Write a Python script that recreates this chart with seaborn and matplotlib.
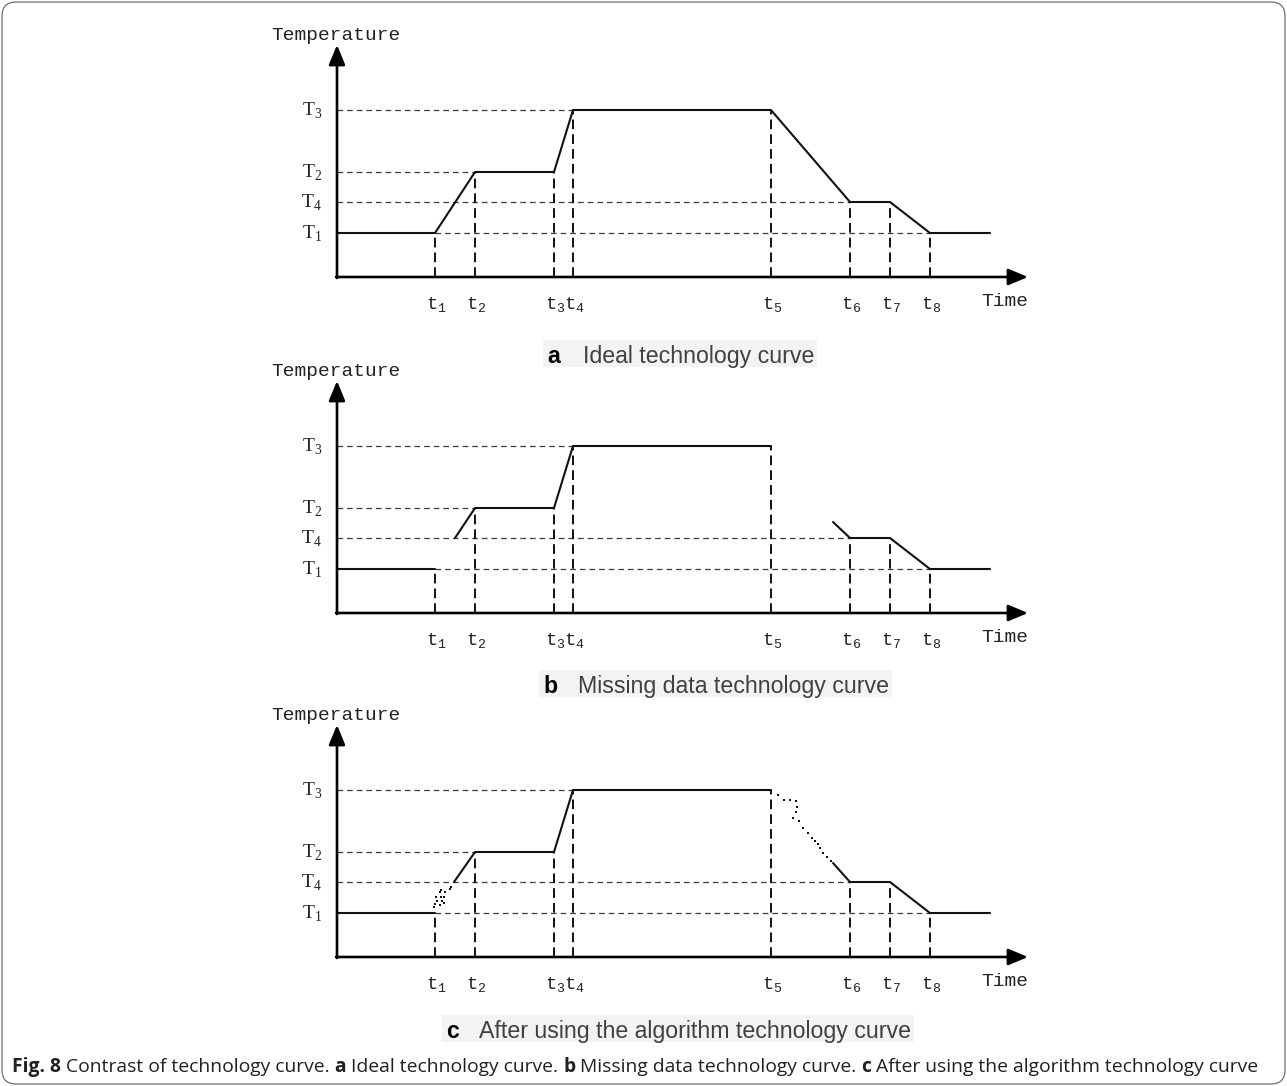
import matplotlib
matplotlib.use('Agg')
import matplotlib.pyplot as plt
import seaborn as sns
from matplotlib.patches import Rectangle, FancyBboxPatch

sns.set_style('white')
plt.rcParams['mathtext.fontset'] = 'custom'
plt.rcParams['mathtext.rm'] = 'Liberation Serif'
plt.rcParams['mathtext.tt'] = 'Liberation Mono'

W, H = 1287, 1086

# time marks t1..t8 and where the curve stops (x units)
t_vals = [98, 138, 217, 236, 434, 513, 553, 593]
t_end = 653
# temperature levels (y units)
T1, T2, T3, T4 = 44, 105, 167, 75
T_names = ['1', '2', '3', '4']
T_levels = [T1, T2, T3, T4]

# ideal curve
ideal_x = [0] + t_vals + [t_end]
ideal_y = [T1, T1, T2, T2, T3, T3, T4, T4, T1, T1]

# missing data curve, three pieces
miss_x1, miss_y1 = [0, 98], [T1, T1]
miss_x2, miss_y2 = [118, 138, 217, 236, 434], [T4, T2, T2, T3, T3]
miss_x3, miss_y3 = [496, 513, 553, 593, t_end], [91, T4, T4, T1, T1]

# repaired curve
rep_x2, rep_y2 = [117, 138, 217, 236, 434], [T4, T2, T2, T3, T3]
rep_x3, rep_y3 = [496, 513, 553, 593, t_end], [94, T4, T4, T1, T1]
# dotted points filled in by the algorithm
fill1_x = [114, 113, 104, 103, 108, 99, 104, 107, 100, 105, 98, 103, 107, 97]
fill1_y = [70, 68, 67, 65, 65, 60, 60, 60, 56, 56, 53, 52, 54, 50]
fill2_x = [441, 447, 453, 459, 460, 459, 456, 462, 466, 471, 475, 478, 481, 483, 486, 490, 494]
fill2_y = [162, 157, 157, 156, 150, 145, 139, 136, 129, 124, 119, 116, 113, 109, 104, 100, 96]

# guide lines (horizontal: level, start, stop)
h_guides = [(T3, 0, 236), (T2, 0, 138), (T4, 0, 513), (T1, 98, 593)]
v_tops = [T1, T2, T2, T3, T3, T4, T4, T1]

panel_letters = ['a', 'b', 'c']
panel_titles = ['Ideal technology curve', 'Missing data technology curve',
                'After using the algorithm technology curve']
axis_base = [277, 613, 957]
title_base = [363, 693, 1038]
letter_x = [547, 543, 446]
title_x = [583, 578, 479]

fig = plt.figure(figsize=(W / 100, H / 100), dpi=100)
bg = fig.add_axes([0, 0, 1, 1])
bg.set_xlim(0, W)
bg.set_ylim(H, 0)
bg.axis('off')
bg.add_patch(FancyBboxPatch((2, 2), W - 4, H - 4, boxstyle='round,pad=0,rounding_size=14',
                            fc='none', ec='#707070', lw=0.9))

line_kw = dict(color='#111111', lw=1.5, sort=False, estimator=None, clip_on=False)

for i in range(3):
    base = axis_base[i]
    ax = fig.add_axes([337 / W, (H - base) / H, 693 / W, 232 / H])
    ax.set_xlim(0, 693)
    ax.set_ylim(0, 232)
    ax.axis('off')
    ax.patch.set_alpha(0)

    # guides
    for lev, x0, x1 in h_guides:
        ax.plot([x0, x1], [lev, lev], color='#3a3a3a', lw=0.9, ls=(0, (4.5, 3.2)), zorder=1, clip_on=False)
    for tx, top in zip(t_vals, v_tops):
        ax.plot([tx, tx], [0, top], color='#111111', lw=1.4, ls=(0, (5, 2.6)), zorder=1, clip_on=False)

    # curves
    if i == 0:
        sns.lineplot(x=ideal_x, y=ideal_y, ax=ax, **line_kw)
    elif i == 1:
        for xs, ys in [(miss_x1, miss_y1), (miss_x2, miss_y2), (miss_x3, miss_y3)]:
            sns.lineplot(x=xs, y=ys, ax=ax, **line_kw)
    else:
        for xs, ys in [(miss_x1, miss_y1), (rep_x2, rep_y2), (rep_x3, rep_y3)]:
            sns.lineplot(x=xs, y=ys, ax=ax, **line_kw)
        for xs, ys in [(fill1_x, fill1_y), (fill2_x, fill2_y)]:
            sns.scatterplot(x=xs, y=ys, ax=ax, marker='s', s=4.6, color='#111111',
                            linewidth=0, clip_on=False, zorder=3)

    # axes arrows
    arr = dict(arrowstyle='-|>,head_length=0.6,head_width=0.25', color='black', lw=1.9,
               shrinkA=0, shrinkB=0, mutation_scale=20)
    ax.annotate('', xy=(691, 0), xytext=(-1, 0), arrowprops=arr, annotation_clip=False)
    ax.annotate('', xy=(0, 232), xytext=(0, -1), arrowprops=arr, annotation_clip=False)

    ax.text(-1, 242, 'Temperature', ha='center', va='center', family='Liberation Mono',
            size=14, color='#222222')
    ax.text(668, -24, 'Time', ha='center', va='center', family='Liberation Mono',
            size=14, color='#222222')
    for name, lev in zip(T_names, T_levels):
        ax.text(-15, lev - 6, r'$\mathrm{T}_{\mathrm{%s}}$' % name, ha='right', va='baseline',
                size=14, color='#222222')
    for k, tx in enumerate(t_vals):
        ax.text(tx + 1, -33, r'$\mathtt{t}_{\mathtt{%d}}$' % (k + 1), ha='center', va='baseline',
                size=13.5, color='#222222')

# panel subtitles
renderer = fig.canvas.get_renderer()
for i in range(3):
    yb = title_base[i]
    bg.text(letter_x[i], yb, panel_letters[i], ha='left', va='baseline', family='Liberation Sans',
            weight='bold', size=16.7, color='black', zorder=3)
    t = bg.text(title_x[i], yb, panel_titles[i], ha='left', va='baseline', family='Liberation Sans',
                size=16.7, color='#404040', zorder=3)
    x_end = t.get_window_extent(renderer).x1
    x0 = letter_x[i] - 4
    bg.add_patch(Rectangle((x0, yb - 23), x_end + 3 - x0, 27, fc='#f3f3f3', ec='none', zorder=2))

# caption with bold pieces
caption = [('Fig. 8', True), ('Contrast of technology curve.', False), ('a', True),
           ('Ideal technology curve.', False), ('b', True), ('Missing data technology curve.', False),
           ('c', True), ('After using the algorithm technology curve', False)]
x = 12
for txt, bold in caption:
    t = bg.text(x, 1072, txt, ha='left', va='baseline', family='Open Sans', size=13.9,
                weight='bold' if bold else 'normal', color='#231f20')
    x = t.get_window_extent(renderer).x1 + 5

fig.savefig('out.png', dpi=100)
